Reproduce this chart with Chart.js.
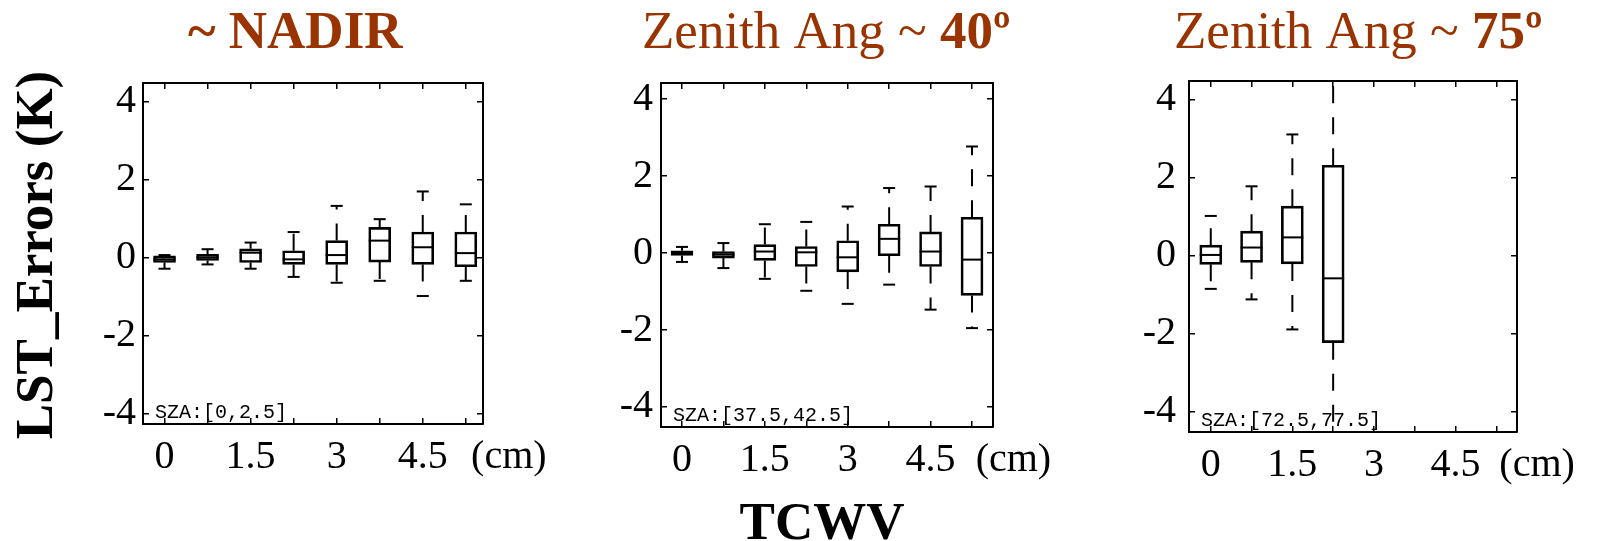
<!DOCTYPE html>
<html>
<head>
<meta charset="utf-8">
<script src="https://cdn.jsdelivr.net/npm/chart.js@4.4.1/dist/chart.umd.min.js"></script>
<style>
  html, body { margin: 0; padding: 0; background: #fff; overflow: hidden; }
  #wrap { position: relative; width: 1600px; height: 541px; }
  #wrap canvas { position: absolute; left: 0; top: 0; }
</style>
</head>
<body>
<div id="wrap">
  <canvas id="nadir" width="1600" height="541"></canvas>
  <canvas id="ang40" width="1600" height="541"></canvas>
  <canvas id="ang75" width="1600" height="541"></canvas>
</div>
<script>
// TCWV bins (cm)
const tcwv = [0, 0.75, 1.5, 2.25, 3, 3.75, 4.5, 5.25];
const tcwv75 = [0, 0.75, 1.5, 2.25];
const xTicks = [0, 0.75, 1.5, 2.25, 3, 3.75, 4.5, 5.25];
const xLabels = [0, 1.5, 3, 4.5];
const yTicks = [-4, -2, 0, 2, 4];

// ~ NADIR
const nadirLo  = [-0.29, -0.18, -0.29, -0.50, -0.65, -0.60, -0.99, -0.60];
const nadirQ1  = [-0.13, -0.08, -0.13, -0.18, -0.18, -0.12, -0.18, -0.24];
const nadirMed = [-0.05,  0.00,  0.12, -0.05,  0.06,  0.43,  0.26,  0.11];
const nadirQ3  = [ 0.04,  0.08,  0.22,  0.17,  0.43,  0.77,  0.65,  0.65];
const nadirHi  = [ 0.06,  0.21,  0.38,  0.65,  1.32,  0.98,  1.69,  1.36];

// Zenith Ang ~ 40
const ang40Lo  = [-0.23, -0.39, -0.67, -0.98, -1.32, -0.82, -1.47, -1.95];
const ang40Q1  = [-0.06, -0.13, -0.19, -0.35, -0.49, -0.07, -0.35, -1.10];
const ang40Med = [ 0.00, -0.04,  0.04,  0.02, -0.11,  0.37,  0.04, -0.17];
const ang40Q3  = [ 0.06,  0.04,  0.22,  0.17,  0.32,  0.75,  0.55,  0.93];
const ang40Hi  = [ 0.16,  0.26,  0.75,  0.81,  1.21,  1.69,  1.73,  2.77];

// Zenith Ang ~ 75
const ang75Lo  = [-0.85, -1.12, -1.89, -5.0];
const ang75Q1  = [-0.22, -0.17, -0.21, -2.23];
const ang75Med = [ 0.02,  0.21,  0.47, -0.58];
const ang75Q3  = [ 0.27,  0.63,  1.27,  2.32];
const ang75Hi  = [ 1.02,  1.78,  3.11,  5.0];

const serif = "'Liberation Serif', 'Times New Roman', serif";
const brown = '#993300';
const TICK = -6, XPAD = 15, FONT = 40;

Chart.defaults.color = '#000';

const panelText = {
  id: 'panelText',
  afterDraw(chart, args, opts) {
    const ctx = chart.ctx;
    const xs = chart.scales.x;
    const area = chart.chartArea;
    ctx.save();
    // title
    ctx.fillStyle = brown;
    ctx.textAlign = 'left';
    ctx.textBaseline = 'alphabetic';
    let tx = opts.titleX;
    opts.title.forEach(p => {
      ctx.font = (p.bold ? 'bold ' : '') + '53px ' + serif;
      ctx.fillText(p.text, tx, 48);
      tx += ctx.measureText(p.text).width;
    });
    // unit label after last tick
    ctx.fillStyle = '#000';
    ctx.font = FONT + 'px ' + serif;
    ctx.textAlign = 'center';
    ctx.textBaseline = 'middle';
    ctx.fillText('(cm)', xs.getPixelForValue(6), xs.top + TICK + XPAD + FONT * 0.6);
    // SZA range
    ctx.font = '20px "Liberation Mono", monospace';
    ctx.textAlign = 'left';
    ctx.textBaseline = 'alphabetic';
    ctx.fillText(opts.sza, area.left + 12, area.bottom - 6);
    // shared axis titles
    if (opts.shared) {
      ctx.font = 'bold 53px ' + serif;
      ctx.textAlign = 'center';
      ctx.fillText('TCWV', 822, 539);
      ctx.translate(52, 255);
      ctx.rotate(-Math.PI / 2);
      ctx.fillText('LST_Errors (K)', 0, 0);
    }
    ctx.restore();
  }
};

function boxPanel(id, p) {
  const boxes = p.x.map((v, i) => ({x: v, y: [p.q1[i], p.q3[i]]}));
  const medians = p.x.map((v, i) => ({x: v, y: p.med[i]}));
  const caps = p.x.flatMap((v, i) => [{x: v, y: p.lo[i]}, {x: v, y: p.hi[i]}]);
  const whiskers = [];
  p.x.forEach((v, i) => {
    whiskers.push({x: v, y: p.q3[i]}, {x: v, y: p.hi[i]}, {x: v, y: null});
    whiskers.push({x: v, y: p.q1[i]}, {x: v, y: p.lo[i]}, {x: v, y: null});
  });

  const tickGrid = {
    drawOnChartArea: false, offset: false, color: '#000', lineWidth: 1.5,
    tickLength: TICK, tickColor: '#000', tickWidth: 1.5
  };
  const frame = {display: true, color: '#000', width: 2};
  const a = p.area;

  new Chart(document.getElementById(id), {
    type: 'bar',
    data: {
      datasets: [
        {type: 'bar', data: boxes, barThickness: 22, grouped: false,
         backgroundColor: 'rgba(0,0,0,0)', borderColor: '#000', borderWidth: 2, borderSkipped: false},
        {type: 'scatter', data: medians, pointStyle: 'line', pointRadius: 11,
         borderColor: '#000', borderWidth: 2},
        {type: 'scatter', data: caps, pointStyle: 'line', pointRadius: 6,
         borderColor: '#000', borderWidth: 2},
        {type: 'line', data: whiskers, borderColor: '#000', borderWidth: 2,
         borderDash: [17, 14], pointRadius: 0, fill: false, spanGaps: false, tension: 0}
      ]
    },
    options: {
      responsive: false,
      animation: false,
      devicePixelRatio: 1,
      events: [],
      layout: {padding: {left: a.left - 50, right: 1600 - a.right, top: a.top, bottom: 541 - a.bottom - 60}},
      plugins: {
        legend: {display: false},
        tooltip: {enabled: false},
        panelText: {title: p.title, titleX: p.titleX, sza: p.sza, shared: p.shared}
      },
      scales: {
        x: {
          type: 'linear', position: 'bottom', min: p.xMin, max: p.xMax, offset: false,
          afterBuildTicks: s => { s.ticks = xTicks.map(v => ({value: v})); },
          afterFit: s => { s.height = 60; },
          border: frame, grid: tickGrid,
          ticks: {autoSkip: false, maxRotation: 0, padding: XPAD, font: {family: serif, size: FONT},
                  callback: v => xLabels.includes(v) ? String(v) : ''}
        },
        x2: {
          type: 'linear', axis: 'x', position: 'top', min: p.xMin, max: p.xMax, offset: false,
          afterBuildTicks: s => { s.ticks = xTicks.map(v => ({value: v})); },
          afterFit: s => { s.height = 0; },
          border: frame, grid: tickGrid, ticks: {display: false}
        },
        y: {
          type: 'linear', position: 'left', min: p.yMin, max: p.yMax,
          afterBuildTicks: s => { s.ticks = yTicks.map(v => ({value: v})); },
          afterFit: s => { s.width = 50; },
          border: frame, grid: tickGrid,
          ticks: {autoSkip: false, padding: p.yPad, font: {family: serif, size: FONT},
                  callback: v => String(v)}
        },
        y2: {
          type: 'linear', axis: 'y', position: 'right', min: p.yMin, max: p.yMax,
          afterBuildTicks: s => { s.ticks = yTicks.map(v => ({value: v})); },
          afterFit: s => { s.width = 0; },
          border: frame, grid: tickGrid, ticks: {display: false}
        }
      }
    },
    plugins: [panelText]
  });
}

boxPanel('nadir', {
  x: tcwv, lo: nadirLo, q1: nadirQ1, med: nadirMed, q3: nadirQ3, hi: nadirHi,
  area: {left: 143, right: 483, top: 83, bottom: 424},
  xMin: -0.375, xMax: 5.55, yMin: -4.27, yMax: 4.47, yPad: 13,
  title: [{text: '~ NADIR', bold: true}], titleX: 188, sza: 'SZA:[0,2.5]', shared: true
});

boxPanel('ang40', {
  x: tcwv, lo: ang40Lo, q1: ang40Q1, med: ang40Med, q3: ang40Q3, hi: ang40Hi,
  area: {left: 661, right: 993, top: 83, bottom: 427},
  xMin: -0.38, xMax: 5.63, yMin: -4.52, yMax: 4.42, yPad: 14,
  title: [{text: 'Zenith Ang ~ ', bold: false}, {text: '40º', bold: true}], titleX: 642,
  sza: 'SZA:[37.5,42.5]'
});

boxPanel('ang75', {
  x: tcwv75, lo: ang75Lo, q1: ang75Q1, med: ang75Med, q3: ang75Q3, hi: ang75Hi,
  area: {left: 1189, right: 1517, top: 81, bottom: 432},
  xMin: -0.40, xMax: 5.63, yMin: -4.52, yMax: 4.48, yPad: 19,
  title: [{text: 'Zenith Ang ~ ', bold: false}, {text: '75º', bold: true}], titleX: 1174,
  sza: 'SZA:[72.5,77.5]'
});
</script>
</body>
</html>
